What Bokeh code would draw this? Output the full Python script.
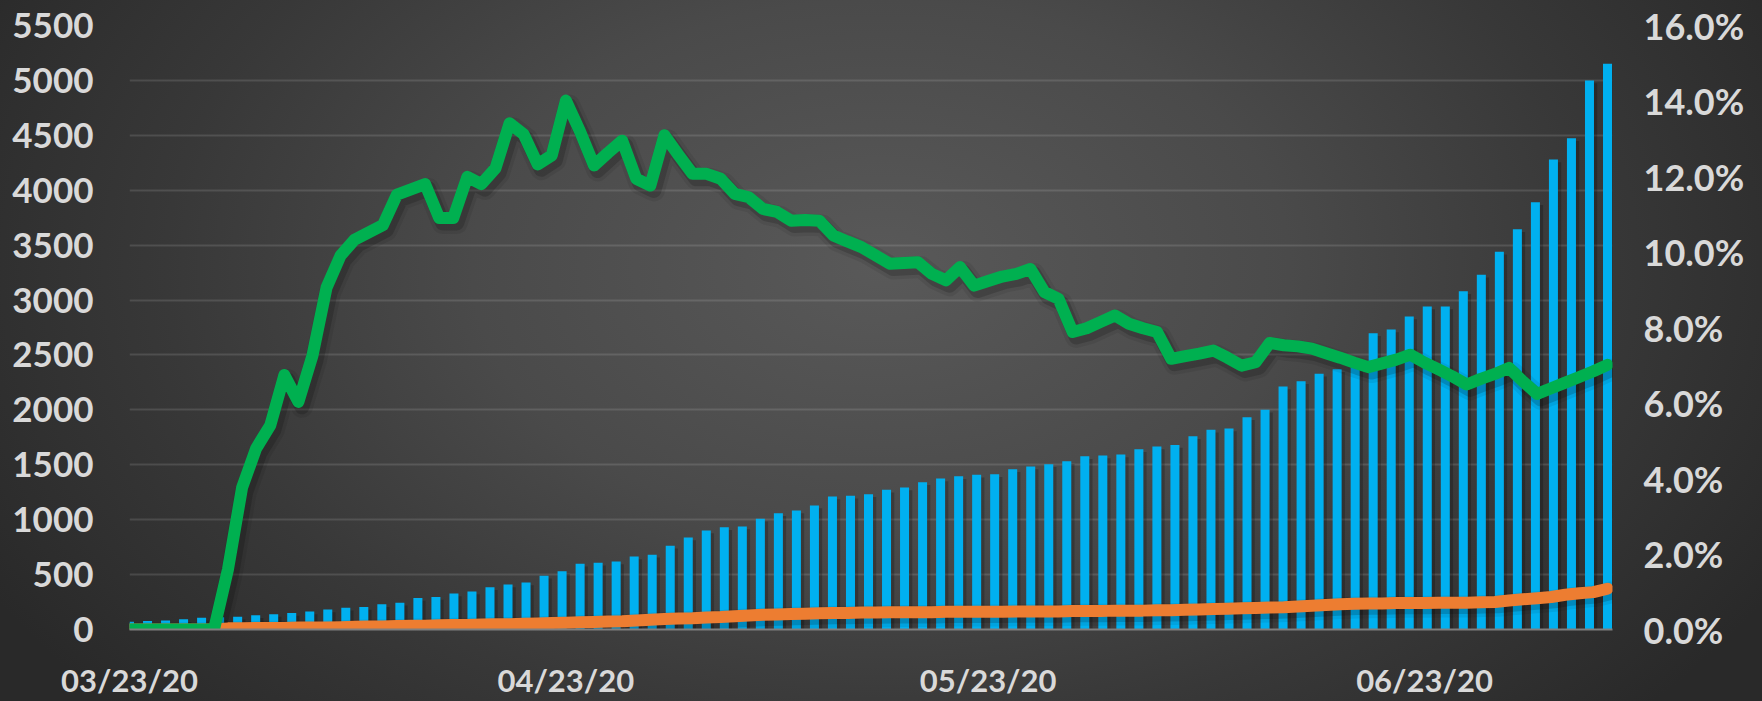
import pandas as pd
from bokeh.plotting import figure
from bokeh.models import Range1d, LinearAxis, FixedTicker, PrintfTickFormatter, ColumnDataSource
from bokeh.embed import file_html
from bokeh.resources import INLINE

# ---------------- data ----------------
start_date = "2020-03-23"

# blue bars (left axis) - 83 bars on their own evenly spaced category scale
bar_values = [70, 77, 82, 94, 106, 112, 116, 129, 140, 150,
              165, 183, 198, 205, 231, 243, 287, 297, 328, 347,
              384, 410, 428, 489, 531, 598, 608, 619, 665, 680,
              762, 838, 901, 930, 938, 1008, 1059, 1084, 1129, 1211,
              1217, 1232, 1272, 1293, 1341, 1375, 1396, 1409, 1414, 1460,
              1484, 1505, 1533, 1578, 1584, 1594, 1642, 1666, 1681, 1760,
              1818, 1830, 1933, 2000, 2213, 2261, 2328, 2370, 2390, 2698,
              2732, 2850, 2941, 2941, 3081, 3230, 3439, 3645, 3891, 4280,
              4474, 5000, 5151]

# green line (right axis, %) - one value per day
green_pct = [0, 0, 0, 0, 0, 0, 0, 1.60, 3.76, 4.80,
             5.41, 6.74, 6.03, 7.26, 9.06, 9.91, 10.33, 10.52, 10.71, 11.52,
             11.66, 11.80, 10.90, 10.90, 11.99, 11.80, 12.22, 13.41, 13.12, 12.32,
             12.56, 14.01, 13.20, 12.29, 12.63, 12.95, 11.94, 11.76, 13.09, 12.57,
             12.07, 12.07, 11.94, 11.54, 11.45, 11.14, 11.06, 10.83, 10.85, 10.83,
             10.44, 10.28, 10.13, 9.91, 9.69, 9.71, 9.73, 9.42, 9.25, 9.60,
             9.11, 9.23, 9.35, 9.42, 9.55, 8.94, 8.76, 7.88, 7.98, 8.15,
             8.32, 8.10, 7.98, 7.88, 7.17, 7.24, 7.31, 7.39, 7.20, 6.99,
             7.08, 7.59, 7.53, 7.50, 7.44, 7.32, 7.20, 7.07, 6.95, 7.05,
             7.15, 7.28, 7.07, 6.89, 6.70, 6.49, 6.64, 6.77, 6.93, 6.57,
             6.24, 6.39, 6.54, 6.69, 6.84, 7.01]

# orange line (right axis, %) - one value per day
orange_pct = [0, 0, 0, 0, 0, 0, 0, 0.03, 0.03, 0.04,
              0.04, 0.04, 0.05, 0.05, 0.05, 0.06, 0.07, 0.08, 0.08, 0.09,
              0.10, 0.10, 0.11, 0.12, 0.12, 0.13, 0.14, 0.14, 0.15, 0.16,
              0.17, 0.18, 0.19, 0.20, 0.21, 0.22, 0.24, 0.26, 0.28, 0.29,
              0.30, 0.32, 0.33, 0.35, 0.37, 0.39, 0.40, 0.41, 0.42, 0.43,
              0.44, 0.44, 0.45, 0.45, 0.46, 0.46, 0.46, 0.46, 0.47, 0.47,
              0.47, 0.47, 0.47, 0.48, 0.48, 0.48, 0.48, 0.49, 0.49, 0.49,
              0.50, 0.50, 0.50, 0.51, 0.51, 0.52, 0.53, 0.54, 0.55, 0.56,
              0.57, 0.58, 0.59, 0.61, 0.63, 0.65, 0.67, 0.68, 0.69, 0.69,
              0.70, 0.70, 0.70, 0.71, 0.71, 0.71, 0.72, 0.73, 0.77, 0.80,
              0.83, 0.86, 0.92, 0.96, 0.99, 1.08]

x_tick_labels = ["03/23/20", "04/23/20", "05/23/20", "06/23/20"]
left_ticks = [0, 500, 1000, 1500, 2000, 2500, 3000, 3500, 4000, 4500, 5000, 5500]
right_ticks = [0, 2, 4, 6, 8, 10, 12, 14, 16]

# ---------------- derived ----------------
dates = pd.date_range(start_date, periods=len(green_pct))
day_idx = list(range(len(dates)))
bar_idx = list(range(len(bar_values)))
tick_pos = [(pd.to_datetime(t, format="%m/%d/%y") - dates[0]).days for t in x_tick_labels]

line_src = ColumnDataSource(dict(day=day_idx, green=green_pct, orange=orange_pct,
                                 day_sh=[d + 0.25 for d in day_idx],
                                 green_sh=[g - 0.13 for g in green_pct],
                                 orange_sh=[o - 0.10 for o in orange_pct]))
bar_src = ColumnDataSource(dict(i=bar_idx, v=bar_values,
                                i_sh=[i + 0.18 for i in bar_idx],
                                v_sh=[v - 25 for v in bar_values]))

W, H = 1762, 701
n_days = len(day_idx) - 1
n_bars = len(bar_idx) - 1

p = figure(width=W, height=H, output_backend="svg", toolbar_location=None,
           x_range=Range1d(0, n_days + 0.355), y_range=Range1d(0, left_ticks[-1]),
           min_border_left=129, min_border_right=150, min_border_top=25, min_border_bottom=72)
p.extra_x_ranges = {"bars": Range1d(0, n_bars + 0.277)}
p.extra_y_ranges = {"pct": Range1d(0, right_ticks[-1])}

p.background_fill_color = None
p.border_fill_color = None
p.outline_line_color = None
p.styles = {"background": "radial-gradient(ellipse 58% 95% at 50% 38%, #595959 0%, #4a4a4a 40%, #383838 70%, #292929 100%)"}

# grid
p.xgrid.visible = False
p.ygrid.ticker = FixedTicker(ticks=left_ticks[1:])
p.ygrid.grid_line_color = "white"
p.ygrid.grid_line_alpha = 0.12
p.ygrid.grid_line_width = 2

FONT = "Lato"
LABEL_COLOR = "#d9d9d9"

# left axis
ly = p.yaxis[0]
ly.ticker = FixedTicker(ticks=left_ticks)
ly.axis_line_color = None
ly.major_tick_line_color = None
ly.minor_tick_line_color = None
ly.major_tick_out = 0
ly.major_label_standoff = 36
ly.major_label_text_font = FONT
ly.major_label_text_font_style = "bold"
ly.major_label_text_font_size = "35px"
ly.major_label_text_color = LABEL_COLOR

# right axis
ry = LinearAxis(y_range_name="pct", ticker=FixedTicker(ticks=right_ticks),
                formatter=PrintfTickFormatter(format="%.1f%%"))
ry.axis_line_color = None
ry.major_tick_line_color = None
ry.minor_tick_line_color = None
ry.major_tick_out = 0
ry.major_label_standoff = 31
ry.major_label_text_font = FONT
ry.major_label_text_font_style = "bold"
ry.major_label_text_font_size = "36px"
ry.major_label_text_color = LABEL_COLOR
p.add_layout(ry, "right")

# x axis
xa = p.xaxis[0]
xa.ticker = FixedTicker(ticks=tick_pos)
xa.major_label_overrides = {pos: lab for pos, lab in zip(tick_pos, x_tick_labels)}
xa.axis_line_color = "#7f7f7f"
xa.axis_line_width = 2
xa.major_tick_line_color = None
xa.minor_tick_line_color = None
xa.major_tick_out = 0
xa.major_label_standoff = 31
xa.major_label_text_font = FONT
xa.major_label_text_font_style = "bold"
xa.major_label_text_font_size = "31px"
xa.major_label_text_color = LABEL_COLOR

# bar shadows and bars
p.vbar(x="i_sh", top="v_sh", width=0.5, bottom=0, source=bar_src, x_range_name="bars",
       fill_color="black", fill_alpha=0.22, line_color=None)
p.vbar(x="i", top="v", width=0.5, bottom=0, source=bar_src, x_range_name="bars",
       fill_color="#00b0f0", line_color=None)

# line shadows (soft, two layers)
for w, a in ((22, 0.07), (15, 0.16)):
    p.line("day_sh", "orange_sh", source=line_src, y_range_name="pct", line_width=w,
           line_color="black", line_alpha=a, line_join="round", line_cap="round")
    p.line("day_sh", "green_sh", source=line_src, y_range_name="pct", line_width=w,
           line_color="black", line_alpha=a, line_join="round", line_cap="round")

# lines
p.line("day", "orange", source=line_src, y_range_name="pct", line_width=12,
       line_color="#ed7d31", line_join="round", line_cap="round")
p.line("day", "green", source=line_src, y_range_name="pct", line_width=12,
       line_color="#00b050", line_join="round", line_cap="round")

open("out.html", "w").write(file_html(p, INLINE))
